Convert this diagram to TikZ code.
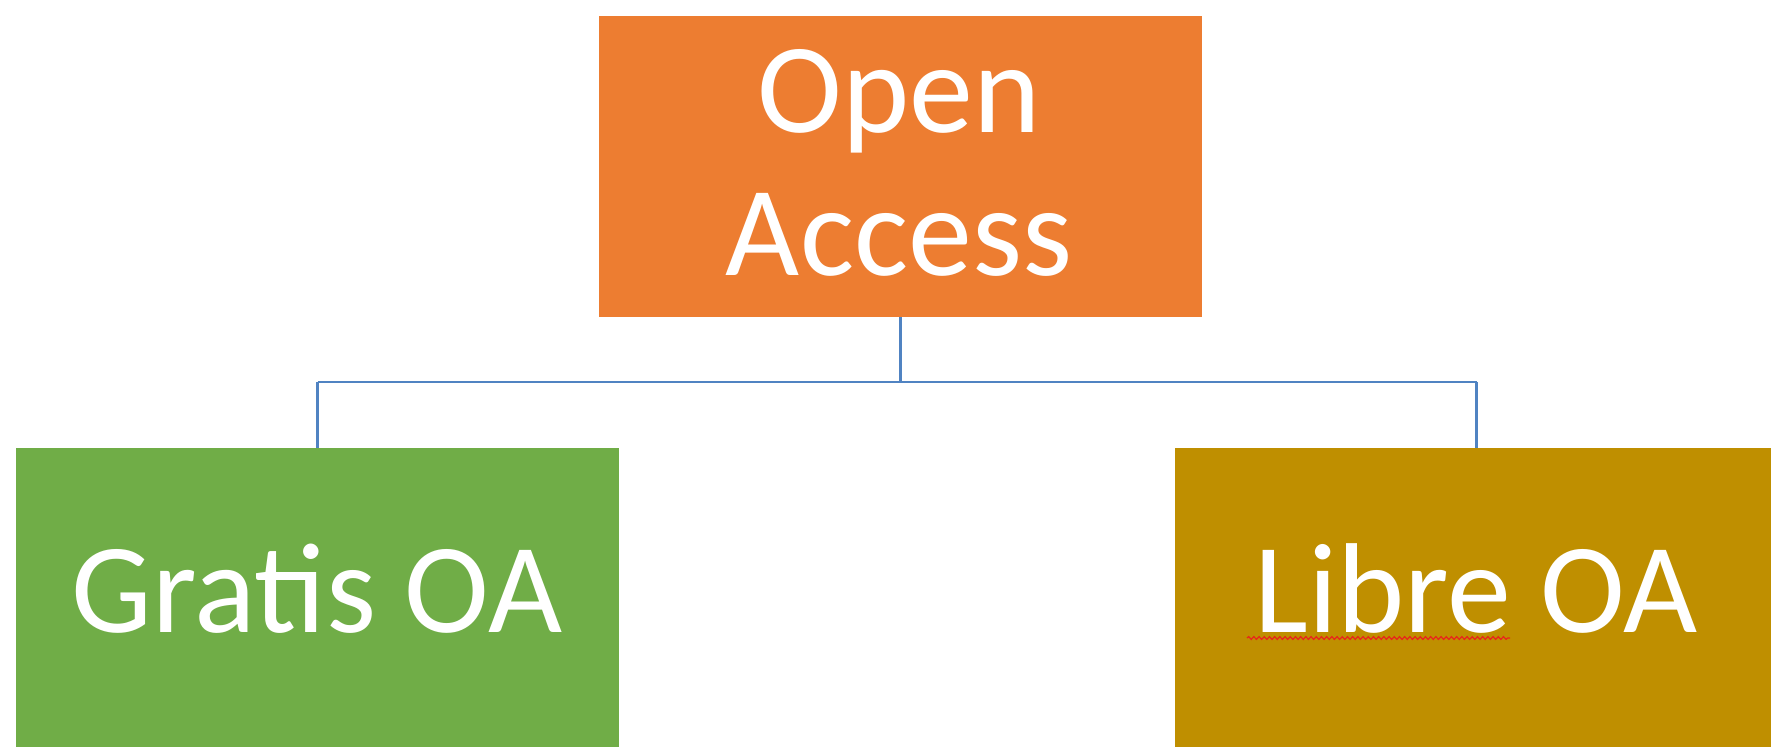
\documentclass[tikz,border=0pt]{standalone}
\usepackage{fontspec}
\setmainfont{Carlito}
\usetikzlibrary{decorations.pathmorphing}
\definecolor{oaorange}{HTML}{ED7D31}
\definecolor{oagreen}{HTML}{70AD47}
\definecolor{oagold}{HTML}{BF8F00}
\definecolor{linkblue}{HTML}{5083C2}
\definecolor{spellred}{HTML}{E8241B}
\tikzset{
  box/.style={rectangle, inner sep=0pt, draw=none},
  label/.style={text=white, inner sep=0pt, font=\fontsize{64pt}{71.5pt}\selectfont},
  link/.style={draw=linkblue, line width=1.1pt},
}
\begin{document}
\begin{tikzpicture}[x=0.5pt,y=-0.5pt]
\useasboundingbox (0,0) rectangle (1771,746);
\clip (0,0) rectangle (1771,746);
\fill[white] (0,0) rectangle (1771,746);
% top box
\node[box, fill=oaorange, minimum width=301.5pt, minimum height=150.5pt] (top) at (900.5,166.5) {};
\node[label, align=center] (toptext) at (899,163) {Open\\Access};
% bottom boxes
\node[box, fill=oagreen, minimum width=301.5pt, minimum height=160pt, anchor=north] (gratis) at (317.5,448) {};
\node[label, anchor=base] (gratistext) at (317,632) {Gratis OA};
\node[box, fill=oagold, minimum width=301.5pt, minimum height=160pt, anchor=north] (libre) at (1476.5,448) {};
\node[label, anchor=base] (libretext) at (1476,632) {Libre OA};
% connectors
\coordinate (mid) at (top.south |- 0,382);
\draw[link] (top.south) -- (mid);
\draw[link] (gratis.north |- mid) -- (libre.north |- mid);
\draw[link] (gratis.north |- mid) -- (gratis.north);
\draw[link] (libre.north |- mid) -- (libre.north);
% spell-check squiggle under "Libre"
\coordinate (sqa) at (1247,638);
\coordinate (sqb) at (1510,638);
\draw[spellred, line width=0.6pt, decorate, decoration={snake, amplitude=0.7pt, segment length=2.6pt}] (sqa) -- (sqb);
\end{tikzpicture}
\end{document}
